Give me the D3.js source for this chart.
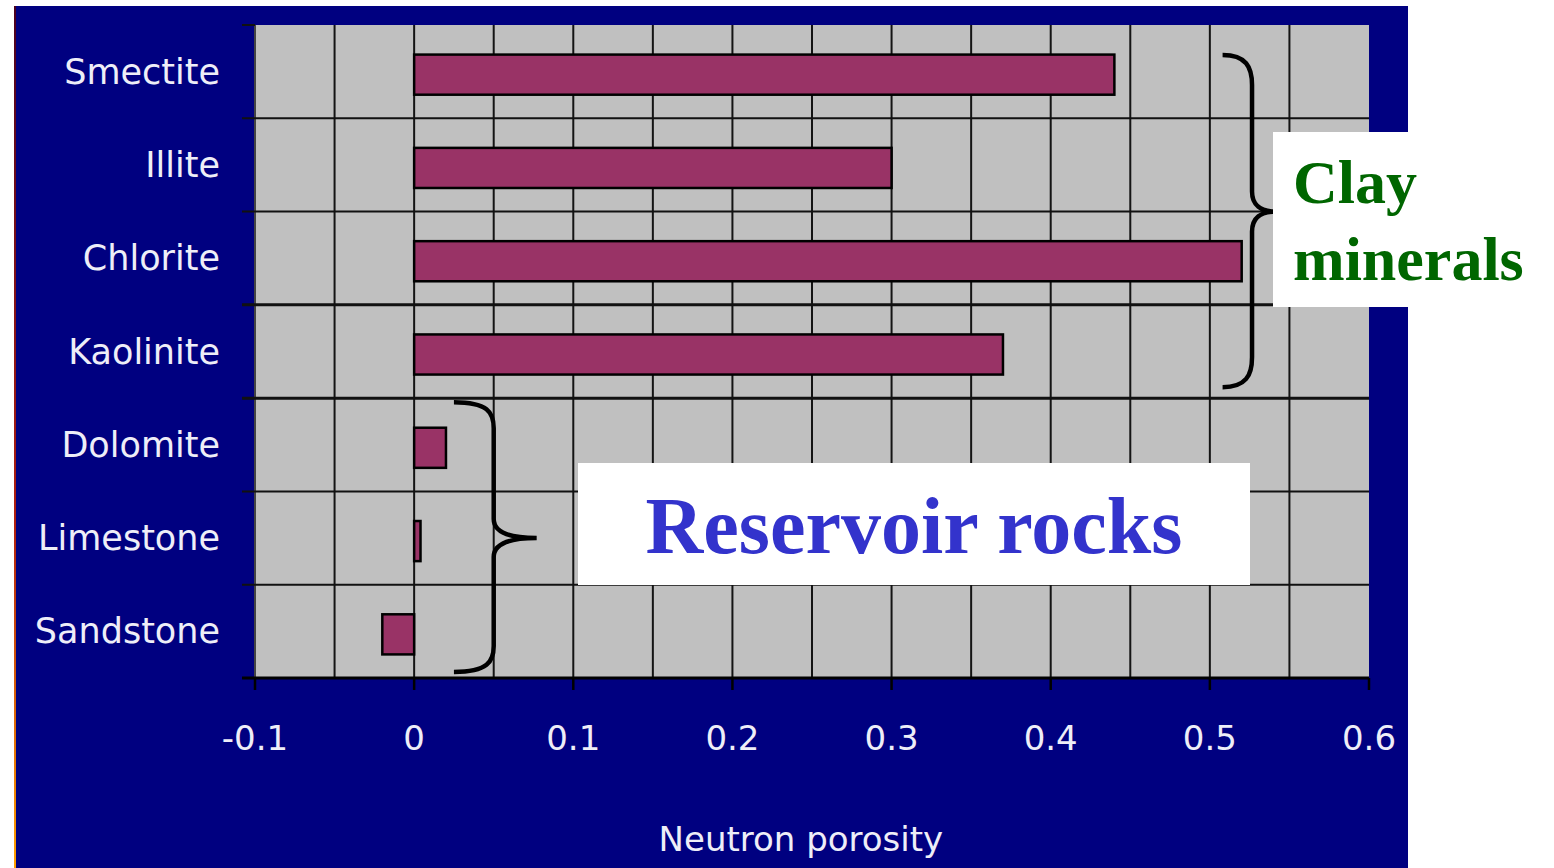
<!DOCTYPE html>
<html>
<head>
<meta charset="utf-8">
<script src="https://cdn.jsdelivr.net/npm/d3@7"></script>
<style>
  html, body { margin: 0; padding: 0; background: #ffffff; }
  svg { display: block; }
</style>
</head>
<body>
<svg id="chart" width="1554" height="868"></svg>
<script>
// Neutron porosity readings by mineral / rock type
const categories = ["Smectite", "Illite", "Chlorite", "Kaolinite", "Dolomite", "Limestone", "Sandstone"];
const porosity   = [0.44, 0.30, 0.52, 0.37, 0.02, 0.004, -0.02];
const tickValues = [-0.1, 0, 0.1, 0.2, 0.3, 0.4, 0.5, 0.6];
const tickLabels = ["-0.1", "0", "0.1", "0.2", "0.3", "0.4", "0.5", "0.6"];
const gridValues = [-0.1, -0.05, 0, 0.05, 0.1, 0.15, 0.2, 0.25, 0.3, 0.35, 0.4, 0.45, 0.5, 0.55];
const clayGroup  = ["Smectite", "Illite", "Chlorite", "Kaolinite"];
const rockGroup  = ["Dolomite", "Limestone", "Sandstone"];
const axisTitle  = "Neutron porosity";

const svg = d3.select("#chart");

const plot = { left: 255, right: 1369, top: 25, bottom: 678 };

const x = d3.scaleLinear().domain([-0.1, 0.6]).range([plot.left, plot.right]);
const y = d3.scaleBand().domain(categories).range([plot.top + 3, plot.bottom + 3])
  .paddingInner(0.57).paddingOuter(0.285);
const step = y.step();
const bandTop = c => plot.top + categories.indexOf(c) * step;

// Panel background with its thin warm left rim
const defs = svg.append("defs");
const grad = defs.append("linearGradient").attr("id", "rim")
  .attr("x1", 0).attr("y1", 0).attr("x2", 0).attr("y2", 1);
grad.append("stop").attr("offset", "0%").attr("stop-color", "#4a0020");
grad.append("stop").attr("offset", "60%").attr("stop-color", "#b02010");
grad.append("stop").attr("offset", "100%").attr("stop-color", "#ffa000");

svg.append("rect").attr("x", 15).attr("y", 6).attr("width", 1393).attr("height", 862).attr("fill", "#000080");
svg.append("rect").attr("x", 14).attr("y", 6).attr("width", 2).attr("height", 862).attr("fill", "url(#rim)");

// Plot area
svg.append("rect")
  .attr("x", plot.left).attr("y", plot.top)
  .attr("width", plot.right - plot.left).attr("height", plot.bottom - plot.top)
  .attr("fill", "#c0c0c0");

// Vertical grid lines
svg.append("g").selectAll("line").data(gridValues).join("line")
  .attr("x1", d => x(d)).attr("x2", d => x(d))
  .attr("y1", plot.top).attr("y2", plot.bottom)
  .attr("stroke", d => d === -0.1 ? "#444" : "#141414")
  .attr("stroke-width", 2);

// Horizontal band boundaries (with left ticks); group separators are heavier
const boundaries = d3.range(categories.length + 1).map(i => plot.top + i * step);
svg.append("g").selectAll("line").data(boundaries.slice(0, -1)).join("line")
  .attr("x1", 242).attr("x2", (d, i) => i === 0 ? plot.left : plot.right)
  .attr("y1", d => d).attr("y2", d => d)
  .attr("stroke", "#111")
  .attr("stroke-width", (d, i) => (i === 3 || i === 4) ? 3 : 2);

// Bars
svg.append("g").selectAll("rect").data(categories).join("rect")
  .attr("x", (d, i) => x(Math.min(0, porosity[i])))
  .attr("y", d => y(d))
  .attr("width", (d, i) => Math.abs(x(porosity[i]) - x(0)))
  .attr("height", y.bandwidth())
  .attr("fill", "#993366")
  .attr("stroke", "#000")
  .attr("stroke-width", 2.5);

// X axis line and ticks
svg.append("line").attr("x1", 242).attr("x2", plot.right)
  .attr("y1", plot.bottom).attr("y2", plot.bottom)
  .attr("stroke", "#000").attr("stroke-width", 3);
svg.append("g").selectAll("line").data(tickValues).join("line")
  .attr("x1", d => x(d)).attr("x2", d => x(d))
  .attr("y1", plot.bottom).attr("y2", plot.bottom + 12)
  .attr("stroke", "#000").attr("stroke-width", 2.5);

// Tick labels
svg.append("g").selectAll("text").data(tickValues).join("text")
  .attr("x", d => x(d)).attr("y", 750)
  .attr("text-anchor", "middle")
  .attr("font-family", "DejaVu Sans, sans-serif")
  .attr("font-size", 34)
  .attr("fill", "#eeeef8")
  .text((d, i) => tickLabels[i]);

// Category labels
svg.append("g").selectAll("text").data(categories).join("text")
  .attr("x", 220)
  .attr("y", d => bandTop(d) + step / 2 + 12)
  .attr("text-anchor", "end")
  .attr("font-family", "DejaVu Sans, sans-serif")
  .attr("font-size", 35)
  .attr("fill", "#eeeef8")
  .text(d => d);

// Axis title
svg.append("text")
  .attr("x", x(0.243)).attr("y", 851)
  .attr("text-anchor", "middle")
  .attr("font-family", "DejaVu Sans, sans-serif")
  .attr("font-size", 34)
  .attr("fill", "#eeeef8")
  .text(axisTitle);

// Curly brace path: ends at xEnd, spine at xSpine, point at xTip
function brace(xEnd, xSpine, xTip, y0, yMid, y1, r, r2) {
  const p = d3.path();
  p.moveTo(xEnd, y0);
  p.bezierCurveTo(xSpine - 6, y0, xSpine, y0 + r * 0.4, xSpine, y0 + r);
  p.lineTo(xSpine, yMid - r2);
  p.bezierCurveTo(xSpine, yMid - r2 * 0.3, xSpine + (xTip - xSpine) * 0.4, yMid, xTip, yMid);
  p.bezierCurveTo(xSpine + (xTip - xSpine) * 0.4, yMid, xSpine, yMid + r2 * 0.3, xSpine, yMid + r2);
  p.lineTo(xSpine, y1 - r);
  p.bezierCurveTo(xSpine, y1 - r * 0.4, xSpine - 6, y1, xEnd, y1);
  return p.toString();
}

// Clay minerals brace
const clayTop = bandTop(clayGroup[0]) + 30;
const clayBot = bandTop(clayGroup[clayGroup.length - 1]) + step - 11;
const clayMid = bandTop(clayGroup[2]);
svg.append("path")
  .attr("d", brace(x(0.508), x(0.5265), x(0.541), clayTop, clayMid, clayBot, 30, 20))
  .attr("fill", "none").attr("stroke", "#000").attr("stroke-width", 4.5);

// Reservoir rocks brace
const rockTop = bandTop(rockGroup[0]) + 4;
const rockBot = bandTop(rockGroup[rockGroup.length - 1]) + step - 6;
const rockMid = bandTop(rockGroup[1]) + step / 2;
svg.append("path")
  .attr("d", brace(x(0.025), x(0.05), x(0.077), rockTop, rockMid, rockBot, 26, 19))
  .attr("fill", "none").attr("stroke", "#000").attr("stroke-width", 4.5);

// Clay minerals label
svg.append("rect").attr("x", 1273).attr("y", 132).attr("width", 140).attr("height", 175).attr("fill", "#ffffff");
const clayText = svg.append("text")
  .attr("font-family", "Liberation Serif, Times New Roman, serif")
  .attr("font-weight", "bold")
  .attr("font-size", 62)
  .attr("fill", "#006600");
clayText.append("tspan").attr("x", 1293).attr("y", 203).text("Clay");
clayText.append("tspan").attr("x", 1293).attr("y", 280).text("minerals");

// Reservoir rocks label
svg.append("rect").attr("x", 578).attr("y", 463).attr("width", 672).attr("height", 122).attr("fill", "#ffffff");
svg.append("text")
  .attr("x", 914).attr("y", 553)
  .attr("text-anchor", "middle")
  .attr("font-family", "Liberation Serif, Times New Roman, serif")
  .attr("font-weight", "bold")
  .attr("font-size", 80)
  .attr("fill", "#3333cc")
  .text("Reservoir rocks");
</script>
</body>
</html>
